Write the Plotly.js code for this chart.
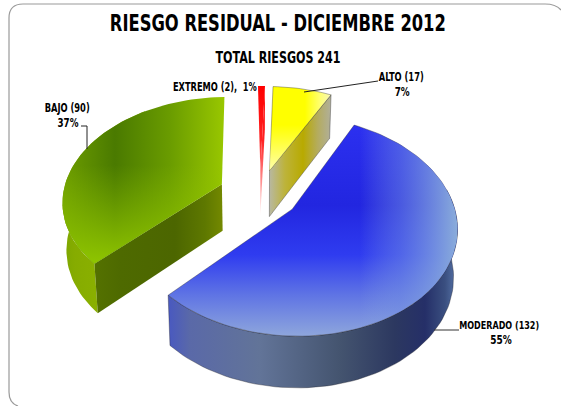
<!DOCTYPE html>
<html><head><meta charset="utf-8"><script src="https://cdn.plot.ly/plotly-3.0.1.min.js"></script>
<style>html,body{margin:0;padding:0;background:#fff}#c{width:561px;height:406px}</style></head><body><div id="c"></div><script>
const categories=["ALTO","MODERADO","BAJO","EXTREMO"];
const values=[17,132,90,2];
const percents=["7%","55%","37%","1%"];
const chartTitle="RIESGO RESIDUAL - DICIEMBRE 2012";
const subTitle="TOTAL RIESGOS 241";

// projection of the tilted disc on the page
const P={X0:260,Y0:194,a:159,b:103,k:.15,H:47,shrink:.98,rot:2};
const pulls=[.245,.245,.262,.245];
const total=values.reduce((s,v)=>s+v,0);
const rad=d=>d*Math.PI/180;
let acc=P.rot;
const slices=values.map((v,i)=>{const s={from:acc,to:acc+v/total*360,pull:pulls[i]};acc=s.to;s.mid=(s.from+s.to)/2;return s;});
function proj(s,r,th,low){
  const U=s.pull*Math.sin(rad(s.mid))+r*Math.sin(rad(th));
  const V=s.pull*Math.cos(rad(s.mid))+r*Math.cos(rad(th));
  const W=1+P.k*V;
  const x=P.a*U/W, y=-P.b*V/W;
  return low?[P.X0+x*P.shrink,P.Y0+y+P.H/Math.sqrt(W)]:[P.X0+x,P.Y0+y];
}
function arc(s,a,b,low){const n=Math.max(2,Math.ceil(Math.abs(b-a)/2)),o=[];for(let i=0;i<=n;i++)o.push(proj(s,1,a+(b-a)*i/n,low));return o;}
const apex=(s,low)=>proj(s,0,s.mid,low);
const data=[];
function face(pts,type,stops,line){
  const lo=stops[0][0],hi=stops[stops.length-1][0];
  data.push({type:'scatter',mode:'lines',x:pts.map(p=>p[0]).concat(pts[0][0]),y:pts.map(p=>p[1]).concat(pts[0][1]),
    fill:'toself',hoverinfo:'skip',showlegend:false,
    line:{width:line?0.8:0,color:line||'rgba(0,0,0,0)'},fillcolor:'rgba(0,0,0,0)',
    fillgradient:{type:type,start:lo,stop:hi,colorscale:stops.map(t=>[(t[0]-lo)/(hi-lo),t[1]])}});
}
const edge='rgba(30,30,40,.45)';
const [alto,mod,bajo,ext]=slices;

// EXTREMO
const redV=[[86,'#ff0000'],[140,'#ff2222'],[185,'#ff9a9a'],[215,'#fff0f0']];
face([apex(ext,true),proj(ext,1,ext.to,true),proj(ext,1,ext.to,false),apex(ext,false)],'vertical',redV);
face([apex(ext,false),...arc(ext,ext.from,ext.to,false)],'vertical',redV);

// ALTO
face([apex(alto,false),apex(alto,true),proj(alto,1,alto.to,true),proj(alto,1,alto.to,false)],'horizontal',
  [[269,'#b8b8a4'],[285,'#bdb33a'],[303,'#b8aa00'],[318,'#b4ac60'],[333,'#b0b0a4']],edge);
face([apex(alto,false),...arc(alto,alto.from,alto.to,false)],'horizontal',
  [[268,'#ffff00'],[305,'#ffff00'],[320,'#ffff70'],[334,'#f4f4c8']],edge);
face([apex(alto,false),...arc(alto,alto.from,alto.to,false)],'vertical',
  [[125,'rgba(255,255,180,0)'],[172,'rgba(255,255,200,.9)']]);

// BAJO
face([...arc(bajo,bajo.from,bajo.from+100,false),...arc(bajo,bajo.from+100,bajo.from,true)],'horizontal',
  [[60,'#7aa400'],[75,'#86ac00'],[98,'#8ab000']]);
face([apex(bajo,false),apex(bajo,true),proj(bajo,1,bajo.from,true),proj(bajo,1,bajo.from,false)],'horizontal',
  [[92,'#557200'],[120,'#4e6a00'],[175,'#4c6600'],[205,'#5e7800'],[226,'#788c00']]);
face([apex(bajo,false),...arc(bajo,bajo.from,bajo.to,false)],'horizontal',
  [[62,'#6e9e00'],[115,'#4a7a00'],[170,'#6a9c00'],[228,'#9cca00']]);
face([apex(bajo,false),...arc(bajo,bajo.from,bajo.to,false)],'vertical',
  [[165,'rgba(140,192,0,0)'],[262,'rgba(142,196,0,1)']]);

// MODERADO
const modWall=[...arc(mod,mod.from+52,mod.to,false),...arc(mod,mod.to,mod.from+52,true)];
face(modWall,'horizontal',
  [[165,'#4656c4'],[190,'#5a69a8'],[260,'#627498'],[340,'#44546f'],[395,'#2c3860'],[425,'#252f68'],[445,'#3a4f80'],[459,'#5c7ab0']],edge);
const modTop=[apex(mod,false),...arc(mod,mod.from,mod.to,false)];
face(modTop,'vertical',
  [[125,'#2c30f0'],[205,'#2226e0'],[255,'#2f3cf0'],[295,'#5f74e4'],[336,'#8ea6dc']],edge);
face(modTop,'horizontal',
  [[360,'rgba(140,170,220,0)'],[400,'rgba(120,150,225,.45)'],[459,'rgba(140,175,218,1)']]);

const FONT='"DejaVu Sans Condensed"';
const layout={width:561,height:406,margin:{l:0,r:0,t:0,b:0},paper_bgcolor:'#fff',plot_bgcolor:'#fff',showlegend:false,
 xaxis:{range:[0,561],visible:false,fixedrange:true},yaxis:{range:[406,0],visible:false,fixedrange:true},
 shapes:[
  {type:'path',xref:'x',yref:'y',layer:'below',path:'M 9 392 L 9 18 Q 9 4 23 4 L 545 4 Q 556 4 561 10 M 9 392 Q 9 403 18 406',line:{color:'#9a9a9a',width:1.2}},
  {type:'line',xref:'x',yref:'y',x0:304,y0:92,x1:378,y1:81,line:{color:'#222',width:1}},
  {type:'path',xref:'x',yref:'y',path:'M 81 126 L 87 126 L 87 149',line:{color:'#222',width:1}},
  {type:'line',xref:'x',yref:'y',x0:434,y0:330,x1:459,y1:330,line:{color:'#333',width:1}}
 ],
 annotations:[]};
const fits=[];
function note(text,x,y,size,width){fits.push(width);layout.annotations.push({text:'<b>'+text+'</b>',x:x,y:y,xref:'x',yref:'y',showarrow:false,xanchor:'center',yanchor:'middle',align:'center',
  font:{family:FONT,size:size,color:'#000'}});}
note(chartTitle,278,23,23,336);
note(subTitle,277.5,57,16,125);
note(categories[0]+' ('+values[0]+')',401,77,12,45);
note(percents[0],402.5,92,12,15);
note(categories[1]+' ('+values[1]+')',499,325,11,80);
note(percents[1],501,340,12,21.5);
note(categories[2]+' ('+values[2]+')',67,108,12,45);
note(percents[2],68,123,12,21);
note(categories[3]+' ('+values[3]+'),  '+percents[3],215,87,12,84);
Plotly.newPlot('c',data,layout,{displayModeBar:false,staticPlot:true}).then(gd=>{
  gd.querySelectorAll('.annotation-text').forEach((t,i)=>{
    const a=t.getAttribute('x'), w=t.getBBox().width, cx=t.getBBox().x+w/2;
    t.setAttribute('textLength',fits[i]);
    t.setAttribute('lengthAdjust','spacingAndGlyphs');
    const b=t.getBBox();
    t.setAttribute('x',parseFloat(a)+(cx-(b.x+b.width/2)));
  });
});
</script></body></html>
